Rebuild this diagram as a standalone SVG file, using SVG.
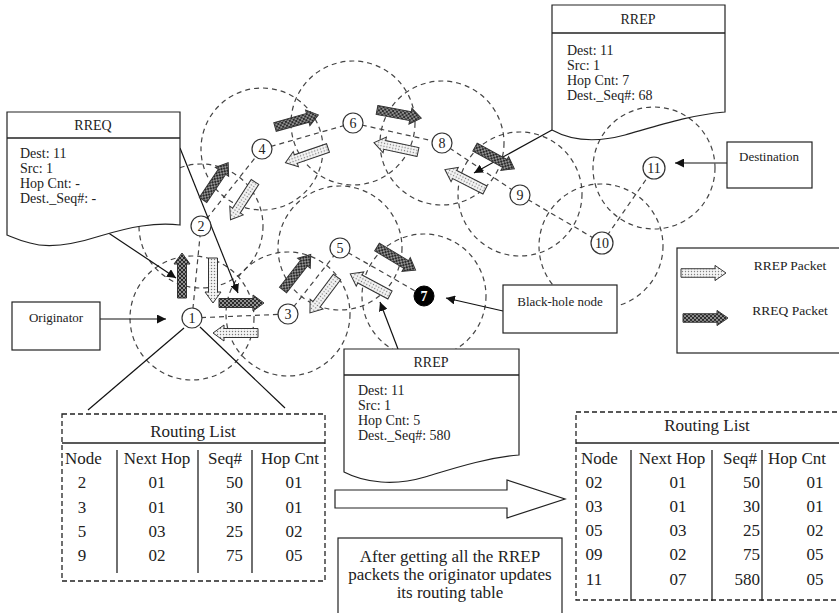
<svg xmlns="http://www.w3.org/2000/svg" width="839" height="613" viewBox="0 0 839 613">
<defs>
<style>
.rng{fill:none;stroke:#444;stroke-width:1.2;stroke-dasharray:5,4}
.lnk{fill:none;stroke:#444;stroke-width:1.2;stroke-dasharray:5,4}
.ptr{fill:none;stroke:#111;stroke-width:1.2}
.ptrA{fill:none;stroke:#111;stroke-width:1.2;marker-end:url(#ah)}
.box{fill:#fff;stroke:#222;stroke-width:1.2}
.doc{fill:#fff;stroke:#222;stroke-width:1.2}
.nd{fill:#fff;stroke:#333;stroke-width:1.2}
.t{font-family:"Liberation Serif","Times New Roman",serif;fill:#222}
.s13{font-size:13px}
.s14{font-size:14px}
.s17{font-size:17px}
.mid{text-anchor:middle}
.end{text-anchor:end}
.dash{fill:none;stroke:#222;stroke-width:1.3;stroke-dasharray:5,3}
.col{stroke:#222;stroke-width:1.3}
</style>
<marker id="ah" viewBox="0 0 10 10" refX="10" refY="5" markerWidth="9" markerHeight="9" markerUnits="userSpaceOnUse" orient="auto">
<path d="M0,0 L10,5 L0,10 Z" fill="#111"/>
</marker>
<pattern id="pReq" width="4" height="4" patternUnits="userSpaceOnUse">
<rect width="4" height="4" fill="#2b2b2b"/>
<path d="M0,0 L4,4 M4,0 L0,4" stroke="#bbb" stroke-width="0.7"/>
</pattern>
<pattern id="pRep" width="3" height="3" patternUnits="userSpaceOnUse">
<rect width="3" height="3" fill="#f4f4f4"/>
<circle cx="1.5" cy="1.5" r="0.7" fill="#777"/>
</pattern>
<path id="pkq" d="M0,-4.5 H34 V-8 L45,0 L34,8 V4.5 H0 Z" fill="url(#pReq)" stroke="#333" stroke-width="1"/>
<path id="pkp" d="M0,-4.5 H34 V-8 L45,0 L34,8 V4.5 H0 Z" fill="url(#pRep)" stroke="#333" stroke-width="1"/>
</defs>
<rect width="839" height="613" fill="#fff"/>

<g id="ranges">
<circle class="rng" cx="192" cy="318" r="62"/>
<circle class="rng" cx="201" cy="226" r="62"/>
<circle class="rng" cx="288" cy="314" r="62"/>
<circle class="rng" cx="262" cy="149" r="61"/>
<circle class="rng" cx="340" cy="248" r="62"/>
<circle class="rng" cx="353" cy="123" r="62"/>
<circle class="rng" cx="424" cy="296" r="62"/>
<circle class="rng" cx="442" cy="143" r="62"/>
<circle class="rng" cx="520" cy="194" r="62"/>
<circle class="rng" cx="601" cy="246" r="62"/>
<circle class="rng" cx="654" cy="168" r="61"/>
</g>

<g id="connectors">
<line class="lnk" x1="192" y1="318" x2="201" y2="226"/>
<line class="lnk" x1="192" y1="318" x2="288" y2="314"/>
<line class="lnk" x1="201" y1="226" x2="262" y2="149"/>
<line class="lnk" x1="288" y1="314" x2="340" y2="248"/>
<line class="lnk" x1="262" y1="149" x2="353" y2="123"/>
<line class="lnk" x1="353" y1="123" x2="442" y2="143"/>
<line class="lnk" x1="442" y1="143" x2="520" y2="195"/>
<line class="lnk" x1="520" y1="195" x2="602" y2="243"/>
<line class="lnk" x1="602" y1="243" x2="654" y2="168"/>
<line class="lnk" x1="340" y1="248" x2="424" y2="296"/>
<line class="ptr" x1="184" y1="328" x2="88" y2="410"/>
<line class="ptr" x1="200" y1="327" x2="285" y2="408"/>
<line class="ptrA" x1="100" y1="319" x2="166" y2="319"/>
<line class="ptrA" x1="180" y1="148" x2="238" y2="293"/>
<line class="ptrA" x1="107" y1="232" x2="176" y2="278"/>
<line class="ptrA" x1="552" y1="130" x2="474" y2="173"/>
<line class="ptrA" x1="398" y1="349" x2="380" y2="302"/>
<line class="ptrA" x1="503" y1="311" x2="446" y2="298"/>
<line class="ptrA" x1="727" y1="163" x2="675" y2="163"/>
</g>

<g id="rreq-box">
<path class="doc" d="M7,112 H180 V225 C155,222 130,227 100,236 C75,244 50,249 30,243 C18,240 12,237 7,235 Z"/>
<line class="col" x1="7" y1="138" x2="180" y2="138"/>
<text class="t s14 mid" x="93" y="130">RREQ</text>
<text class="t s14" x="20" y="158">Dest: 11</text>
<text class="t s14" x="20" y="173">Src: 1</text>
<text class="t s14" x="20" y="188">Hop Cnt: -</text>
<text class="t s14" x="20" y="203">Dest._Seq#: -</text>
</g>

<g id="rrep-top">
<path class="doc" style="fill:none" d="M552,5 H725 V112 C690,115 660,125 625,135 C595,143 570,140 552,130 Z"/>
<line class="col" x1="552" y1="33" x2="725" y2="33"/>
<text class="t s14 mid" x="638" y="24">RREP</text>
<text class="t s14" x="567" y="55">Dest: 11</text>
<text class="t s14" x="567" y="70">Src: 1</text>
<text class="t s14" x="567" y="85">Hop Cnt: 7</text>
<text class="t s14" x="567" y="100">Dest._Seq#: 68</text>
</g>

<g id="rrep-bottom">
<path class="doc" d="M344,349 H519 V455 C485,458 455,468 425,477 C395,486 365,483 344,472 Z"/>
<line class="col" x1="344" y1="375" x2="519" y2="375"/>
<text class="t s14 mid" x="431" y="367">RREP</text>
<text class="t s14" x="358" y="395">Dest: 11</text>
<text class="t s14" x="358" y="410">Src: 1</text>
<text class="t s14" x="358" y="425">Hop Cnt: 5</text>
<text class="t s14" x="358" y="440">Dest._Seq#: 580</text>
</g>

<g id="originator">
<rect class="box" x="12" y="302" width="88" height="48"/>
<text class="t s13 mid" x="56" y="322">Originator</text>
</g>

<g id="blackhole-label">
<rect class="box" x="503" y="285" width="114" height="48"/>
<text class="t s13 mid" x="560" y="306">Black-hole node</text>
</g>

<g id="destination">
<rect class="box" x="727" y="142" width="85" height="46"/>
<text class="t s13 mid" x="769" y="161">Destination</text>
</g>

<g id="legend">
<rect class="box" x="677" y="248" width="200" height="105"/>
<use href="#pkp" transform="translate(681,273) scale(1,0.95)"/>
<use href="#pkq" transform="translate(683,318) scale(1,0.95)"/>
<text class="t mid" style="font-size:13.5px" x="790" y="270">RREP Packet</text>
<text class="t mid" style="font-size:13.5px" x="790" y="315">RREQ Packet</text>
</g>

<g id="node-1"><circle class="nd" cx="192" cy="318" r="10"/><text class="t s14 mid" x="192" y="323">1</text></g>
<g id="node-2"><circle class="nd" cx="201" cy="226" r="10"/><text class="t s14 mid" x="201" y="231">2</text></g>
<g id="node-3"><circle class="nd" cx="288" cy="314" r="10"/><text class="t s14 mid" x="288" y="319">3</text></g>
<g id="node-4"><circle class="nd" cx="262" cy="149" r="10"/><text class="t s14 mid" x="262" y="154">4</text></g>
<g id="node-5"><circle class="nd" cx="340" cy="248" r="10"/><text class="t s14 mid" x="340" y="253">5</text></g>
<g id="node-6"><circle class="nd" cx="353" cy="123" r="10"/><text class="t s14 mid" x="353" y="128">6</text></g>
<g id="node-7"><circle cx="424" cy="296" r="10" fill="#000" stroke="#000"/><text class="t s14 mid" style="fill:#fff;font-weight:bold" x="424" y="301">7</text></g>
<g id="node-8"><circle class="nd" cx="442" cy="143" r="10"/><text class="t s14 mid" x="442" y="148">8</text></g>
<g id="node-9"><circle class="nd" cx="520" cy="195" r="10"/><text class="t s14 mid" x="520" y="200">9</text></g>
<g id="node-10"><circle class="nd" cx="602" cy="243" r="11"/><text class="t s14 mid" x="602" y="248">10</text></g>
<g id="node-11"><circle class="nd" cx="654" cy="168" r="11"/><text class="t s14 mid" x="654" y="173">11</text></g>

<g id="packets">
<use href="#pkq" transform="translate(182,298) rotate(-90)"/>
<use href="#pkp" transform="translate(213,258) rotate(90)"/>
<use href="#pkq" transform="translate(219,303)"/>
<use href="#pkp" transform="translate(258,333) rotate(180)"/>
<use href="#pkq" transform="translate(283,290) rotate(-52)"/>
<use href="#pkp" transform="translate(337,277) rotate(127)"/>
<use href="#pkq" transform="translate(377,247) rotate(31)"/>
<use href="#pkp" transform="translate(390,295) rotate(208)"/>
<use href="#pkq" transform="translate(203,200) rotate(-56)"/>
<use href="#pkp" transform="translate(255,182) rotate(123)"/>
<use href="#pkq" transform="translate(275,127) rotate(-15.6)"/>
<use href="#pkp" transform="translate(328,148) rotate(161)"/>
<use href="#pkq" transform="translate(377,110) rotate(10.5)"/>
<use href="#pkp" transform="translate(418,152) rotate(192)"/>
<use href="#pkq" transform="translate(475,147) rotate(29)"/>
<use href="#pkp" transform="translate(485,190) rotate(207)"/>
</g>

<g id="routing-list-before">
<rect class="dash" x="62" y="414" width="263" height="167"/>
<line class="col" x1="62" y1="443" x2="325" y2="443"/>
<line class="col" x1="117" y1="450" x2="117" y2="573"/>
<line class="col" x1="198" y1="450" x2="198" y2="573"/>
<line class="col" x1="252" y1="450" x2="252" y2="573"/>
<text class="t s17 mid" x="193" y="437">Routing List</text>
<text class="t s17" x="65" y="464">Node</text>
<text class="t s17 mid" x="157" y="464">Next Hop</text>
<text class="t s17 mid" x="225" y="464">Seq#</text>
<text class="t s17 mid" x="290" y="464">Hop Cnt</text>
<text class="t s17 mid" x="82" y="488">2</text><text class="t s17 mid" x="157" y="488">01</text><text class="t s17 end" x="243" y="488">50</text><text class="t s17 mid" x="294" y="488">01</text>
<text class="t s17 mid" x="82" y="513">3</text><text class="t s17 mid" x="157" y="513">01</text><text class="t s17 end" x="243" y="513">30</text><text class="t s17 mid" x="294" y="513">01</text>
<text class="t s17 mid" x="82" y="537">5</text><text class="t s17 mid" x="157" y="537">03</text><text class="t s17 end" x="243" y="537">25</text><text class="t s17 mid" x="294" y="537">02</text>
<text class="t s17 mid" x="82" y="561">9</text><text class="t s17 mid" x="157" y="561">02</text><text class="t s17 end" x="243" y="561">75</text><text class="t s17 mid" x="294" y="561">05</text>
</g>

<g id="update-arrow">
<path d="M335,490 H507 V480 L565,499 L507,518 V508 H335 Z" fill="#fff" stroke="#222" stroke-width="1.2"/>
</g>

<g id="note">
<rect class="box" x="338" y="538" width="224" height="85"/>
<text class="t s17 mid" x="450" y="562">After getting all the RREP</text>
<text class="t s17 mid" x="450" y="580">packets the originator updates</text>
<text class="t s17 mid" x="450" y="598">its routing table</text>
</g>

<g id="routing-list-after">
<rect class="dash" x="576" y="412" width="300" height="188"/>
<line class="col" x1="576" y1="443" x2="839" y2="443"/>
<line class="col" x1="631" y1="450" x2="631" y2="601"/>
<line class="col" x1="712" y1="450" x2="712" y2="601"/>
<line class="col" x1="762" y1="450" x2="762" y2="601"/>
<text class="t s17 mid" x="707" y="431">Routing List</text>
<text class="t s17" x="581" y="464">Node</text>
<text class="t s17 mid" x="672" y="464">Next Hop</text>
<text class="t s17 mid" x="740" y="464">Seq#</text>
<text class="t s17" x="768" y="464">Hop Cnt</text>
<text class="t s17 mid" x="594" y="488">02</text><text class="t s17 mid" x="678" y="488">01</text><text class="t s17 end" x="760" y="488">50</text><text class="t s17 mid" x="815" y="488">01</text>
<text class="t s17 mid" x="594" y="512">03</text><text class="t s17 mid" x="678" y="512">01</text><text class="t s17 end" x="760" y="512">30</text><text class="t s17 mid" x="815" y="512">01</text>
<text class="t s17 mid" x="594" y="536">05</text><text class="t s17 mid" x="678" y="536">03</text><text class="t s17 end" x="760" y="536">25</text><text class="t s17 mid" x="815" y="536">02</text>
<text class="t s17 mid" x="594" y="560">09</text><text class="t s17 mid" x="678" y="560">02</text><text class="t s17 end" x="760" y="560">75</text><text class="t s17 mid" x="815" y="560">05</text>
<text class="t s17 mid" x="594" y="585">11</text><text class="t s17 mid" x="678" y="585">07</text><text class="t s17 end" x="760" y="585">580</text><text class="t s17 mid" x="815" y="585">05</text>
</g>
</svg>
